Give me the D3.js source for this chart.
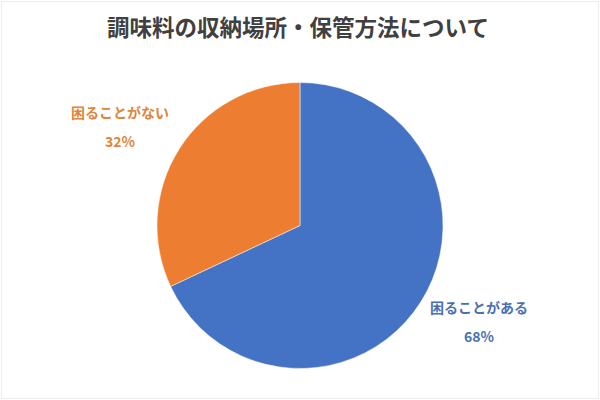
<!DOCTYPE html>
<html><head><meta charset="utf-8">
<script src="https://cdn.jsdelivr.net/npm/d3@7"></script>
<style>body{margin:0;background:#fff}</style>
</head><body>
<svg id="c" width="600" height="400"></svg>
<script>
const title = "調味料の収納場所・保管方法について";
const categories = ["困ることがある", "困ることがない"];
const values = [68, 32];
const colors = ["#4472C4", "#ED7D31"];
const labelColors = ["#4A6FB5", "#E0843A"];

const svg = d3.select("#c");
const font = "'Noto Sans CJK JP', 'Noto Sans', sans-serif";
svg.append("rect").attr("x",1.5).attr("y",1.5).attr("width",597).attr("height",397)
  .attr("fill","#fff").attr("stroke","#ededed").attr("stroke-width",1);

svg.append("text").attr("x",298).attr("y",36).attr("text-anchor","middle")
  .attr("font-family",font).attr("font-weight","bold").attr("font-size",22.5)
  .attr("fill","#404040").text(title);

const cx = 300, cy = 225.5, r = 143;
const pie = d3.pie().sort(null).value(d=>d)(values);
const arc = d3.arc().innerRadius(0).outerRadius(r);
const g = svg.append("g").attr("transform",`translate(${cx},${cy})`);
g.selectAll("path").data(pie).join("path").attr("d",arc)
  .attr("fill",(d,i)=>colors[i]).attr("stroke","#fff").attr("stroke-width",0.5);

// data labels placed outside the slices (Excel-style "best fit")
const labelPos = [[479, 308], [120, 113]];
pie.forEach((d,i)=>{
  const [lx, ly] = labelPos[i];
  const t = svg.append("g").attr("font-family",font).attr("font-weight","bold")
    .attr("font-size",14).attr("fill",labelColors[i]).attr("text-anchor","middle");
  t.append("text").attr("x",lx).attr("y",ly+5).text(categories[i]);
  t.append("text").attr("x",lx).attr("y",ly+34).text(d3.format(".0%")(d.value/d3.sum(values)));
});
</script>
</body></html>
